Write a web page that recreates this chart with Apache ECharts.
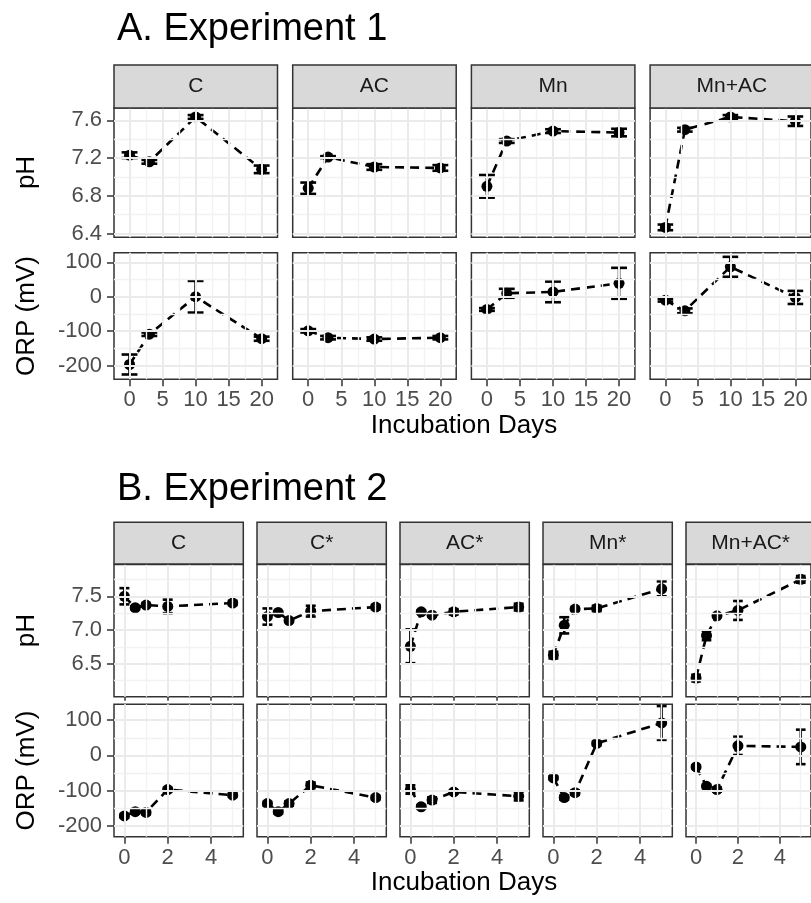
<!DOCTYPE html>
<html>
<head>
<meta charset="utf-8">
<script src="https://cdn.jsdelivr.net/npm/echarts@6/dist/echarts.min.js"></script>
<style>html,body{margin:0;padding:0;background:#fff;}#chart{width:811px;height:903px;}</style>
</head>
<body>
<div id="chart"></div>
<script>
// ---------- Experiment 1 ----------
const A_days = [0, 3, 10, 20];
const A_panels = ['C', 'AC', 'Mn', 'Mn+AC'];
const A_C_pH = [7.23, 7.16, 7.635, 7.08];
const A_C_pH_err = [0.03, 0.02, 0.02, 0.04];
const A_AC_pH = [6.88, 7.21, 7.105, 7.095];
const A_AC_pH_err = [0.06, 0.01, 0.03, 0.03];
const A_Mn_pH = [6.90, 7.38, 7.485, 7.47];
const A_Mn_pH_err = [0.12, 0.02, 0.02, 0.04];
const A_MnAC_pH = [6.465, 7.50, 7.635, 7.59];
const A_MnAC_pH_err = [0.03, 0.02, 0.02, 0.05];
const A_C_ORP = [-197, -109, 0, -122];
const A_C_ORP_err = [29, 5, 46, 6];
const A_AC_ORP = [-99, -119, -123, -119];
const A_AC_ORP_err = [5, 5, 5, 5];
const A_Mn_ORP = [-37, 10, 14, 39];
const A_Mn_ORP_err = [4, 13, 30, 45];
const A_MnAC_ORP = [-10, -41, 87, -2];
const A_MnAC_ORP_err = [4, 7, 29, 19];
const A_x_ticks = [0, 5, 10, 15, 20];
const A_x_minor = [2.5, 7.5, 12.5, 17.5];
const A_pH_ticks = [6.4, 6.8, 7.2, 7.6];
const A_pH_minor = [6.6, 7.0, 7.4];

// ---------- Experiment 2 ----------
const B_days = [0, 0.5, 1, 2, 5];
const B_panels = ['C', 'C*', 'AC*', 'Mn*', 'Mn+AC*'];
const B_C_pH = [7.50, 7.33, 7.37, 7.35, 7.40];
const B_C_pH_err = [0.12, 0.02, 0.02, 0.10, 0.03];
const B_Cs_pH = [7.20, 7.26, 7.14, 7.28, 7.34];
const B_Cs_pH_err = [0.12, 0.01, 0.01, 0.08, 0.03];
const B_ACs_pH = [6.76, 7.27, 7.22, 7.27, 7.34];
const B_ACs_pH_err = [0.25, 0.02, 0.02, 0.04, 0.05];
const B_Mns_pH = [6.63, 7.07, 7.31, 7.32, 7.61];
const B_Mns_pH_err = [0.05, 0.12, 0.02, 0.04, 0.11];
const B_MnACs_pH = [6.29, 6.92, 7.21, 7.29, 7.75];
const B_MnACs_pH_err = [0.05, 0.07, 0.01, 0.14, 0.05];
const B_C_ORP = [-172, -160, -162, -97, -113];
const B_C_ORP_err = [5, 5, 5, 5, 5];
const B_Cs_ORP = [-137, -160, -137, -85, -120];
const B_Cs_ORP_err = [5, 5, 6, 8, 5];
const B_ACs_ORP = [-97, -146, -127, -104, -116];
const B_ACs_ORP_err = [12, 5, 8, 4, 12];
const B_Mns_ORP = [-64, -120, -106, 34, 92];
const B_Mns_ORP_err = [4, 6, 6, 5, 48];
const B_MnACs_ORP = [-33, -88, -97, 27, 24];
const B_MnACs_ORP_err = [4, 5, 6, 26, 49];
const B_x_ticks = [0, 2, 4];
const B_x_minor = [1, 3, 5];
const B_pH_ticks = [6.5, 7.0, 7.5];
const B_pH_minor = [6.25, 6.75, 7.25, 7.75];

const ORP_ticks = [-200, -100, 0, 100];
const ORP_minor = [-150, -50, 50];

// ---------- build ----------
const FONT = '"Liberation Sans", Arial, Helvetica, sans-serif';
const grids = [], xAxes = [], yAxes = [], series = [], graphics = [];

function addPanel(p) {
  const gi = grids.length;
  grids.push({left: p.left, top: p.top, width: p.width, height: p.height, show: true,
    backgroundColor: '#fff', borderColor: '#333', borderWidth: 1.5, containLabel: false});
  xAxes.push({type: 'value', gridIndex: gi, min: p.xr[0], max: p.xr[1],
    axisLine: {show: false, onZero: false},
    axisTick: {show: p.xMode !== 'none', length: p.xMode === 'labels' ? 7 : 4, customValues: p.xTicks,
      lineStyle: {color: '#333', width: 1.5}},
    axisLabel: {show: p.xMode === 'labels', customValues: p.xTicks, margin: 10, fontSize: 22,
      color: '#4D4D4D', fontFamily: FONT},
    splitLine: {show: false}});
  yAxes.push({type: 'value', gridIndex: gi, min: p.yr[0], max: p.yr[1],
    axisLine: {show: false, onZero: false},
    axisTick: {show: p.showY, length: 7, customValues: p.yTicks, lineStyle: {color: '#333', width: 1.5}},
    axisLabel: {show: p.showY, customValues: p.yTicks, margin: 12, fontSize: 22, color: '#4D4D4D',
      fontFamily: FONT, formatter: p.yFmt},
    splitLine: {show: false}});
  const major = {color: '#EBEBEB', width: 2, type: 'solid'};
  const minor = {color: '#F2F2F2', width: 1.4, type: 'solid'};
  const ml = [];
  p.xMinor.forEach(v => ml.push({xAxis: v, lineStyle: minor}));
  p.yMinor.forEach(v => ml.push({yAxis: v, lineStyle: minor}));
  p.xTicks.forEach(v => ml.push({xAxis: v, lineStyle: major}));
  p.yTicks.forEach(v => ml.push({yAxis: v, lineStyle: major}));
  series.push({type: 'line', xAxisIndex: gi, yAxisIndex: gi, data: [], z: 1, silent: true, showSymbol: false,
    markLine: {silent: true, symbol: ['none', 'none'], label: {show: false}, animation: false, data: ml}});
  const capHalf = p.capHalf;
  series.push({type: 'custom', xAxisIndex: gi, yAxisIndex: gi, z: 3, silent: true, animation: false,
    data: p.days.map((d, i) => [d, p.mean[i], p.err[i]]),
    encode: {x: 0, y: 1},
    renderItem: function (params, api) {
      const x = api.value(0), m = api.value(1), e = api.value(2);
      const t = api.coord([x, m + e]), b = api.coord([x, m - e]);
      const l = api.coord([x - capHalf, m])[0], r = api.coord([x + capHalf, m])[0];
      const st = {stroke: '#000', lineWidth: 2.6};
      return {type: 'group', children: [
        {type: 'line', shape: {x1: t[0], y1: t[1], x2: b[0], y2: b[1]}, style: st},
        {type: 'line', shape: {x1: l, y1: t[1], x2: r, y2: t[1]}, style: st},
        {type: 'line', shape: {x1: l, y1: b[1], x2: r, y2: b[1]}, style: st}
      ]};
    }});
  series.push({type: 'line', xAxisIndex: gi, yAxisIndex: gi, z: 4, animation: false,
    data: p.days.map((d, i) => [d, p.mean[i]]),
    symbol: 'circle', symbolSize: 11, showSymbol: true,
    itemStyle: {color: '#000'},
    lineStyle: {color: '#000', width: 2.6, type: [9, 6]}});
}

function strip(left, top, width, height, label) {
  graphics.push({type: 'rect', shape: {x: left, y: top, width: width, height: height},
    style: {fill: '#D9D9D9', stroke: '#333', lineWidth: 1.5}, z: 10});
  graphics.push({type: 'text', x: left + width / 2, y: top + height / 2, z: 11,
    style: {text: label, font: '21px ' + FONT, fill: '#1A1A1A', align: 'center', verticalAlign: 'middle',
      textAlign: 'center', textVerticalAlign: 'middle'}});
}
function label(text, x, y, size, rot, color) {
  graphics.push({type: 'text', x: x, y: y, rotation: rot || 0, z: 11,
    style: {text: text, font: size + 'px ' + FONT, fill: color || '#000', align: rot === null ? 'left' : 'center',
      verticalAlign: 'middle', textAlign: rot === null ? 'left' : 'center', textVerticalAlign: 'middle'}});
}

const fmt1 = v => v.toFixed(1);
const fmt0 = v => String(Math.round(v));

// Experiment 1 layout
const A_pH = [A_C_pH, A_AC_pH, A_Mn_pH, A_MnAC_pH];
const A_pHe = [A_C_pH_err, A_AC_pH_err, A_Mn_pH_err, A_MnAC_pH_err];
const A_ORP = [A_C_ORP, A_AC_ORP, A_Mn_ORP, A_MnAC_ORP];
const A_ORPe = [A_C_ORP_err, A_AC_ORP_err, A_Mn_ORP_err, A_MnAC_ORP_err];
A_panels.forEach((name, i) => {
  const left = 114 + i * 178.7, w = 163.5;
  strip(left, 65, w, 43, name);
  addPanel({left, top: 108, width: w, height: 129.3, xr: [-2.35, 22.4], yr: [6.36, 7.73],
    xTicks: A_x_ticks, xMinor: A_x_minor, yTicks: A_pH_ticks, yMinor: A_pH_minor,
    showY: i === 0, xMode: 'none', yFmt: fmt1, days: A_days, mean: A_pH[i], err: A_pHe[i], capHalf: 1.2});
  addPanel({left, top: 252.7, width: w, height: 126.6, xr: [-2.35, 22.4], yr: [-240, 128],
    xTicks: A_x_ticks, xMinor: A_x_minor, yTicks: ORP_ticks, yMinor: ORP_minor,
    showY: i === 0, xMode: 'labels', yFmt: fmt0, days: A_days, mean: A_ORP[i], err: A_ORPe[i], capHalf: 1.2});
});

// Experiment 2 layout
const B_pH = [B_C_pH, B_Cs_pH, B_ACs_pH, B_Mns_pH, B_MnACs_pH];
const B_pHe = [B_C_pH_err, B_Cs_pH_err, B_ACs_pH_err, B_Mns_pH_err, B_MnACs_pH_err];
const B_ORP = [B_C_ORP, B_Cs_ORP, B_ACs_ORP, B_Mns_ORP, B_MnACs_ORP];
const B_ORPe = [B_C_ORP_err, B_Cs_ORP_err, B_ACs_ORP_err, B_Mns_ORP_err, B_MnACs_ORP_err];
B_panels.forEach((name, i) => {
  const left = 114 + i * 143, w = 129.3;
  strip(left, 522.3, w, 41.7, name);
  addPanel({left, top: 564.5, width: w, height: 132.2, xr: [-0.48, 5.49], yr: [6.014, 7.97],
    xTicks: B_x_ticks, xMinor: B_x_minor, yTicks: B_pH_ticks, yMinor: B_pH_minor,
    showY: i === 0, xMode: 'ticks', yFmt: fmt1, days: B_days, mean: B_pH[i], err: B_pHe[i], capHalf: 0.23});
  addPanel({left, top: 704.3, width: w, height: 132.4, xr: [-0.48, 5.49], yr: [-231, 145],
    xTicks: B_x_ticks, xMinor: B_x_minor, yTicks: ORP_ticks, yMinor: ORP_minor,
    showY: i === 0, xMode: 'labels', yFmt: fmt0, days: B_days, mean: B_ORP[i], err: B_ORPe[i], capHalf: 0.23});
});

label('A. Experiment 1', 117, 30, 38, null);
label('B. Experiment 2', 117, 490, 38, null);
label('pH', 27, 172.5, 26, Math.PI / 2);
label('ORP (mV)', 27, 316, 26, Math.PI / 2);
label('pH', 27, 630.6, 26, Math.PI / 2);
label('ORP (mV)', 27, 770.5, 26, Math.PI / 2);
label('Incubation Days', 464, 426, 26, 0);
label('Incubation Days', 464, 883, 26, 0);

const chart = echarts.init(document.getElementById('chart'), null, {renderer: 'canvas'});
chart.setOption({
  animation: false,
  backgroundColor: '#fff',
  grid: grids, xAxis: xAxes, yAxis: yAxes, series: series,
  graphic: {elements: graphics}
});
</script>
</body>
</html>
